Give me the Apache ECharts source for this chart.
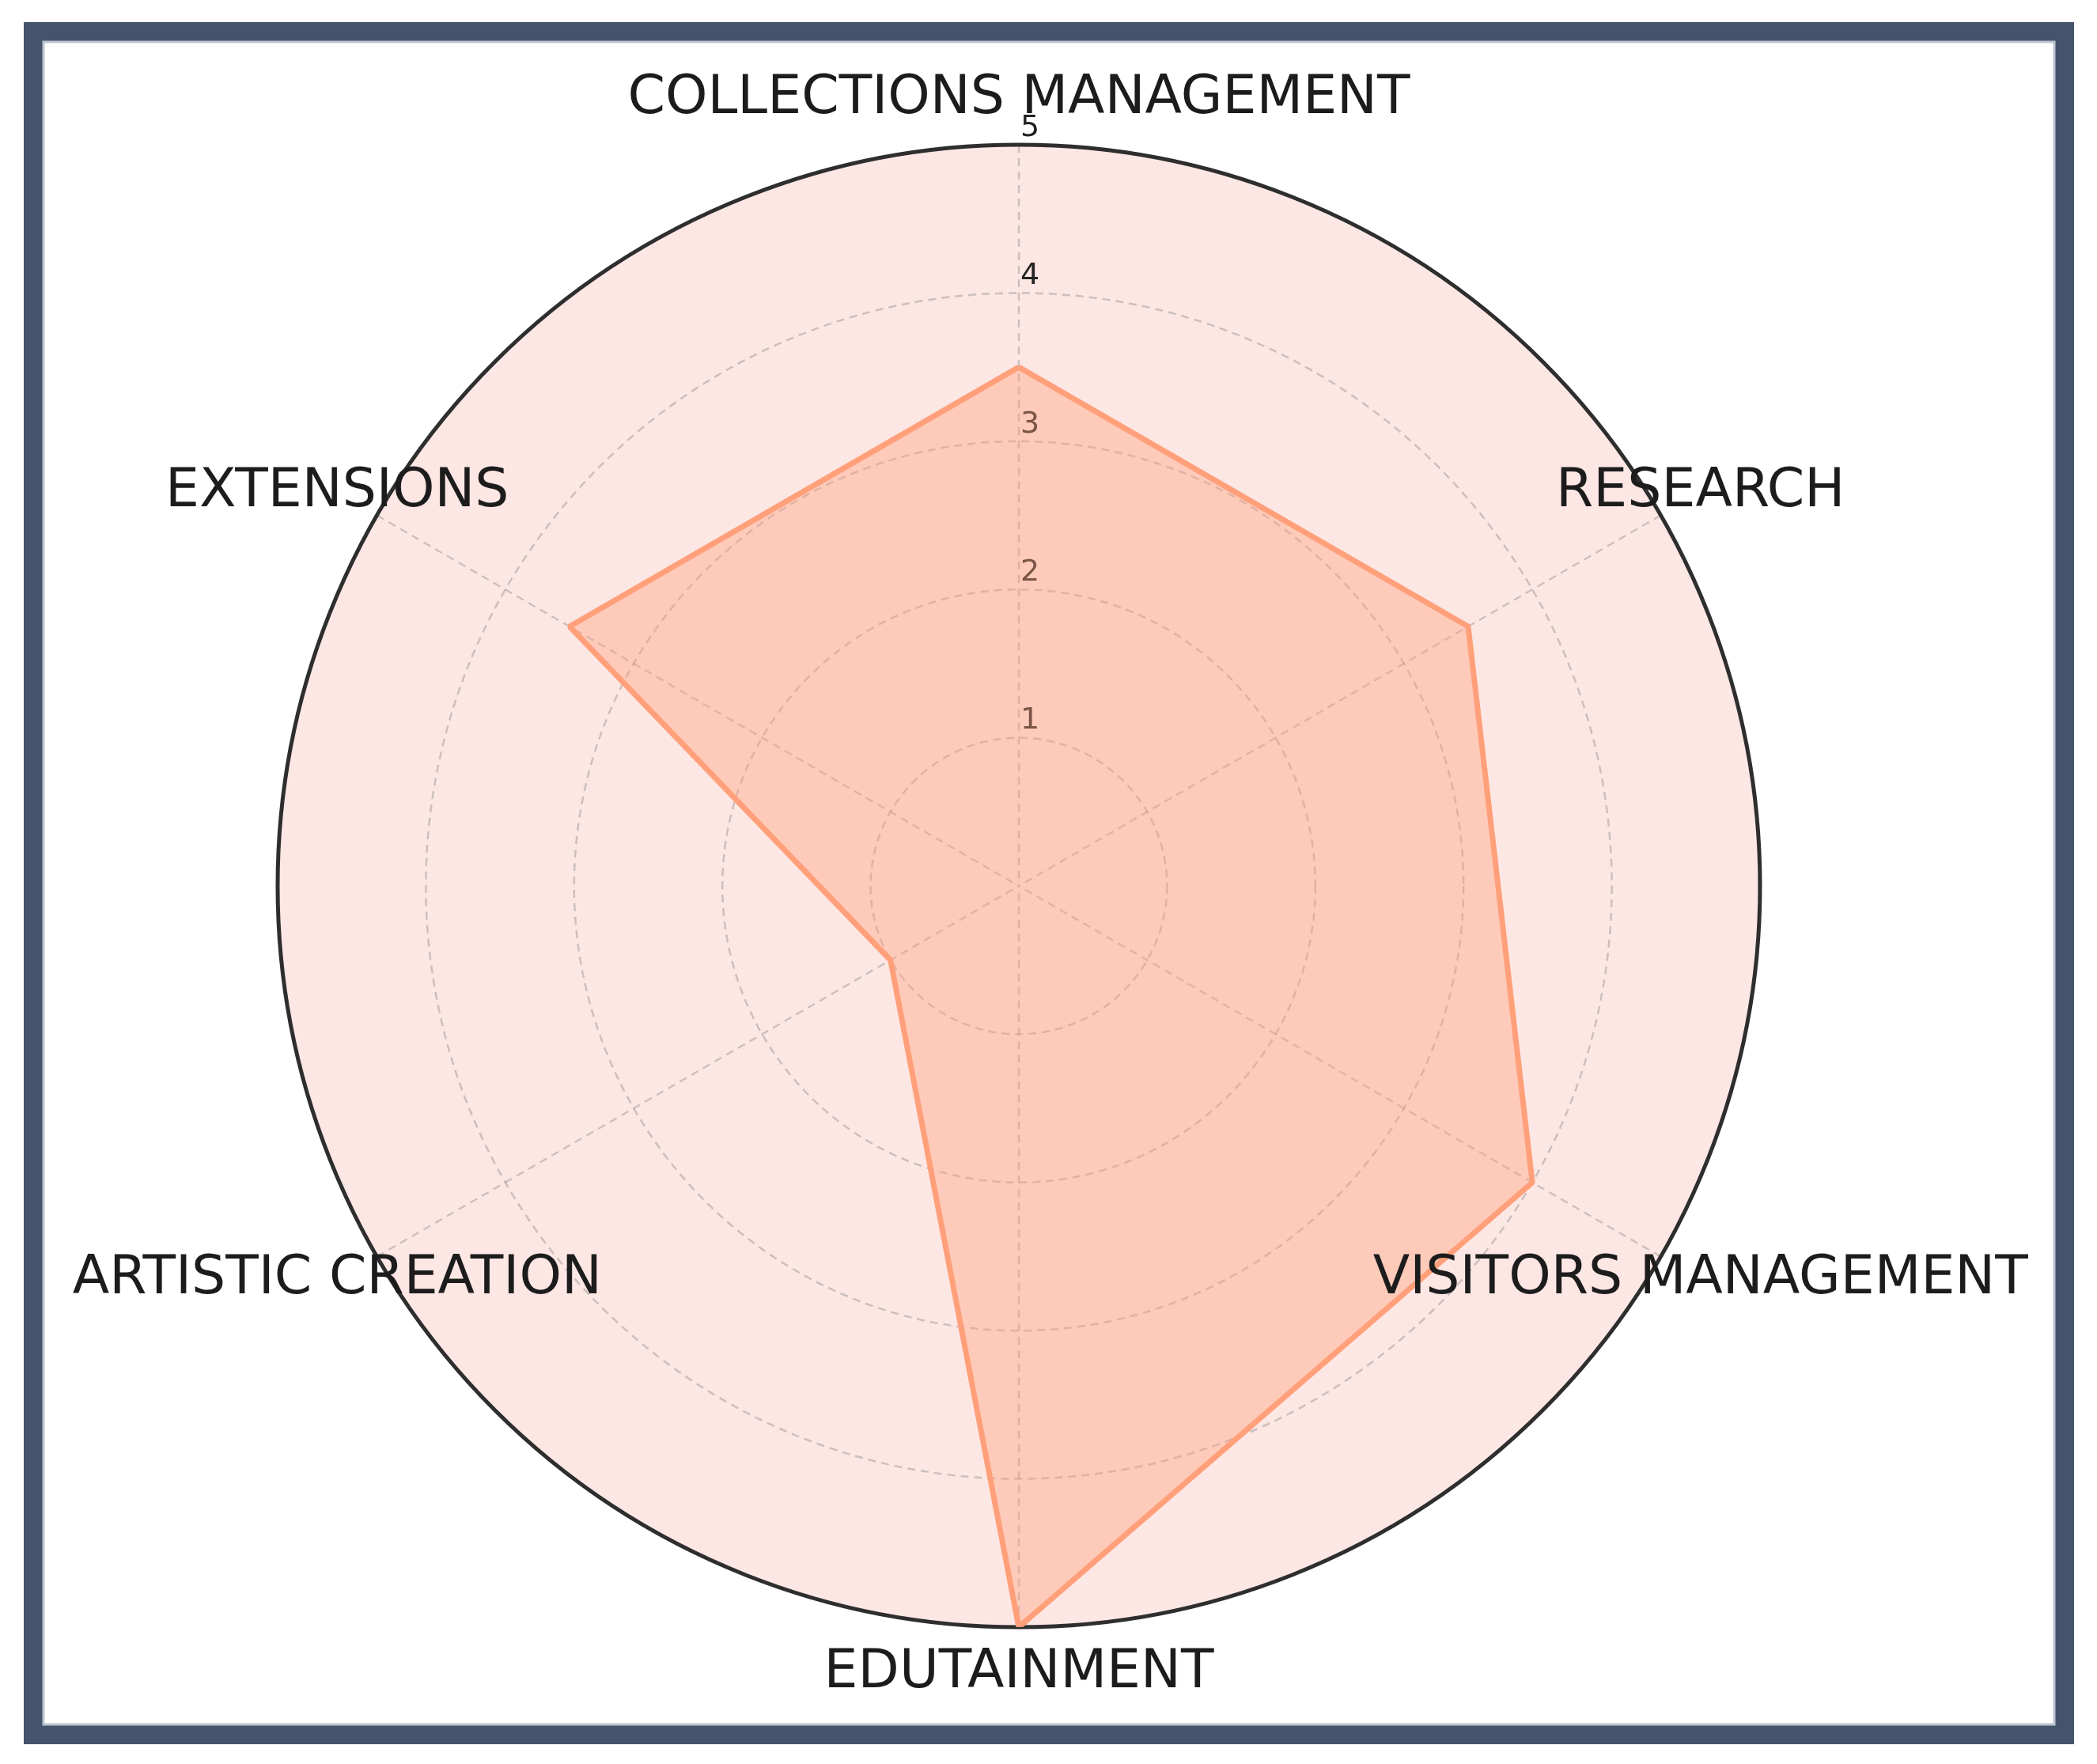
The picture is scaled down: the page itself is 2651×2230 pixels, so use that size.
<!DOCTYPE html>
<html>
<head>
<meta charset="utf-8">
<style>
  html, body { margin: 0; padding: 0; background: #ffffff; }
  #chart { width: 2651px; height: 2230px; }
</style>
<script src="https://cdn.jsdelivr.net/npm/echarts@6/dist/echarts.min.js"></script>
</head>
<body>
<div id="chart"></div>
<script>
// ---- data ----
const categories = ['COLLECTIONS MANAGEMENT', 'RESEARCH', 'VISITORS MANAGEMENT', 'EDUTAINMENT', 'ARTISTIC CREATION', 'EXTENSIONS'];
const scores = [3.5, 3.5, 4.0, 5.0, 1.0, 3.5];
const radialTicks = [1, 2, 3, 4, 5];
const radialMax = 5;
const labelRadius = 5.31;

// ---- build ----
const step = 360 / categories.length;
const polygon = scores.map((v, i) => [v, i * step]);
polygon.push([scores[0], 360]);
const labelPoints = categories.map((c, i) => [labelRadius, i * step]);

const chart = echarts.init(document.getElementById('chart'), null, { renderer: 'canvas' });
const grid = { color: 'rgba(135,135,135,0.42)', width: 2.5, type: [10, 7] };
const center = [1288, 1120];
const R = 937;

chart.setOption({
  animation: false,
  backgroundColor: '#ffffff',
  graphic: [
    { type: 'rect', z: 100, silent: true,
      shape: { x: 42, y: 40, width: 2568, height: 2153 },
      style: { fill: 'none', stroke: '#44546c', lineWidth: 24 } },
    { type: 'rect', z: 100, silent: true,
      shape: { x: 55, y: 53, width: 2542, height: 2127 },
      style: { fill: 'none', stroke: '#bcc4d0', lineWidth: 3 } }
  ],
  polar: [
    { center: center, radius: R },
    { center: center, radius: R }
  ],
  angleAxis: [
    { polarIndex: 0, type: 'value', min: 0, max: 360, interval: step,
      startAngle: 90, clockwise: true, z: 0,
      axisLine: { show: false }, axisTick: { show: false }, axisLabel: { show: false },
      splitLine: { show: false }, splitArea: { show: false } },
    { polarIndex: 1, type: 'value', min: 0, max: 360, interval: step,
      startAngle: 90, clockwise: true, z: 2,
      axisLine: { show: true, lineStyle: { color: '#2e2e2e', width: 5 } },
      axisTick: { show: false }, axisLabel: { show: false },
      splitLine: { show: true, lineStyle: grid }, splitArea: { show: false } }
  ],
  radiusAxis: [
    { polarIndex: 0, type: 'value', min: 0, max: radialMax, interval: 1, z: 0,
      axisLine: { show: false }, axisTick: { show: false }, axisLabel: { show: false },
      splitLine: { show: false },
      splitArea: { show: true, areaStyle: { color: ['#fde7e4'] } } },
    { polarIndex: 1, type: 'value', min: 0, max: radialMax, interval: 1, z: 2,
      axisLine: { show: false }, axisTick: { show: false },
      splitLine: { show: true, lineStyle: grid }, splitArea: { show: false },
      axisLabel: {
        show: true, margin: -2, align: 'left', verticalAlign: 'bottom',
        fontFamily: 'DejaVu Sans', fontSize: 38, color: '#222222',
        padding: [0, 0, 2, 0],
        formatter: v => (radialTicks.indexOf(v) >= 0 ? String(v) : '')
      } }
  ],
  series: [
    {
      type: 'line', coordinateSystem: 'polar', polarIndex: 1, data: polygon,
      symbol: 'none', silent: true,
      lineStyle: { color: '#FFA07A', width: 7 },
      areaStyle: { color: '#FFA07A', opacity: 0.4 },
      z: 3
    },
    {
      type: 'scatter', coordinateSystem: 'polar', polarIndex: 1, data: labelPoints,
      symbolSize: 2, itemStyle: { color: 'rgba(0,0,0,0)' }, clip: false, silent: true,
      label: {
        show: true, position: 'inside', opacity: 1,
        formatter: p => categories[p.dataIndex],
        fontFamily: 'DejaVu Sans', fontSize: 68, color: '#1c1c1c',
        textBorderWidth: 0
      },
      labelLayout: { hideOverlap: false },
      z: 5
    }
  ]
});
</script>
</body>
</html>
